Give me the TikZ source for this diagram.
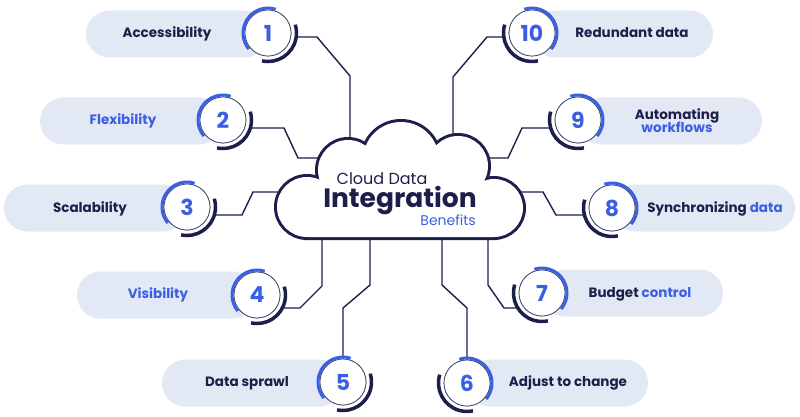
\documentclass[tikz,border=0pt]{standalone}
\usepackage{fontspec}
\setmainfont{Poppins}
\definecolor{navy}{HTML}{1C1F4A}
\definecolor{bblue}{HTML}{3A5FE5}
\definecolor{pillc}{HTML}{E3E8F5}
\begin{document}
\begin{tikzpicture}[x=1pt,y=-1pt,
  pill/.style={fill=pillc, rounded corners=23.5pt},
  numc/.style={circle, draw=navy!85, line width=0.7pt, fill=white, minimum size=46pt, inner sep=0pt,
    font=\bfseries\fontsize{22}{22}\selectfont, text=bblue},
  lbl/.style={font=\bfseries\fontsize{13.5}{15}\selectfont, text=navy, align=center, inner sep=0pt},
  conn/.style={draw=navy, line width=1.4pt, line join=miter},
  barc/.style={draw=bblue, line width=3pt},
  narc/.style={draw=navy, line width=3.5pt},
  cloudshape/.style={line width=6pt, draw=navy},
]
\useasboundingbox (0,0) rectangle (800,417);
\fill[white] (0,0) rectangle (800,417);

% pills
\fill[pill] (86,10.5) rectangle (268,57.5);
\fill[pill] (40,97.5) rectangle (223,144.5);
\fill[pill] (4,184.5) rectangle (187,231.5);
\fill[pill] (77,271.5) rectangle (257,318.5);
\fill[pill] (162,359.5) rectangle (343,406.5);
\fill[pill] (467,359.5) rectangle (648,406.5);
\fill[pill] (542,269.5) rectangle (723,316.5);
\fill[pill] (612,184.5) rectangle (795,231.5);
\fill[pill] (578,97.5) rectangle (762,144.5);
\fill[pill] (532,10.5) rectangle (713,57.5);

% number circles (nodes)
\node[numc] (n1) at (268,33) {1};
\node[numc] (n2) at (223,120) {2};
\node[numc] (n3) at (187,207) {3};
\node[numc] (n4) at (257,295) {4};
\node[numc] (n5) at (343,382) {5};
\node[numc] (n6) at (467,383) {6};
\node[numc] (n7) at (542,293) {7};
\node[numc] (n8) at (612,208) {8};
\node[numc] (n9) at (578,120) {9};
\node[numc] (n10) at (532,33) {10};

% cloud attachment points
\coordinate (cA) at (350,150);
\coordinate (cB) at (335,158);
\coordinate (cC) at (290,192);
\coordinate (cD) at (322,230);
\coordinate (cE) at (370,230);
\coordinate (cF) at (442,230);
\coordinate (cG) at (488,230);
\coordinate (cH) at (510,192);
\coordinate (cI) at (470,158);
\coordinate (cJ) at (453,150);

% connectors
\draw[conn] ([shift={(27.7,4)}]n1.center) -- (317,37) -- (350,76) -- (cA);
\draw[conn] ([shift={(26.8,8)}]n2.center) -- (284,128) -- (298,158) -- (cB);
\draw[conn] ([shift={(26.8,8)}]n3.center) -- (242,215) -- (253,192) -- (cC);
\draw[conn] ([shift={(24.8,13)}]n4.center) -- (300,308) -- (322,286) -- (cD);
\draw[conn] (n5.north) -- (343,308) -- (370,285) -- (cE);
\draw[conn] (n6.north) -- (467,308) -- (442,285) -- (cF);
\draw[conn] ([shift={(-23.6,15)}]n7.center) -- (504,308) -- (488,285) -- (cG);
\draw[conn] ([shift={(-26.8,7)}]n8.center) -- (556,215) -- (543,192) -- (cH);
\draw[conn] ([shift={(-26.8,8)}]n9.center) -- (522,128) -- (508,158) -- (cI);
\draw[conn] ([shift={(-27.7,4)}]n10.center) -- (487,37) -- (453,77) -- (cJ);

% redraw circles on top of connectors
\foreach \n/\t in {n1/1,n2/2,n3/3,n4/4,n5/5,n6/6,n7/7,n8/8,n9/9,n10/10}
  \node[numc] at (\n.center) {\t};

% cloud: union outline trick
\def\cloudshapes{
  (307,207) circle[radius=30]
  (348,170) circle[radius=30]
  (401,160) circle[radius=38]
  (458,166) circle[radius=30]
  (494,208) circle[radius=29]
  (307,207) -- (348,170) -- (401,160) -- (458,166) -- (494,208) -- (494,237) -- (307,237) -- cycle
}
\draw[cloudshape] \cloudshapes;
\fill[white] \cloudshapes;

% rings
\foreach \n in {n1,n2,n3,n4,n5}{
  \draw[barc] (\n.center) ++(-72:25) arc[start angle=-72, end angle=-220, radius=25];
  \draw[narc] (\n.center) ++(102:28.5) arc[start angle=102, end angle=-17, radius=28.5];
}
\foreach \n in {n6,n7,n8,n9,n10}{
  \draw[barc] (\n.center) ++(-108:25) arc[start angle=-108, end angle=40, radius=25];
  \draw[narc] (\n.center) ++(-163:28.5) arc[start angle=-163, end angle=-282, radius=28.5];
}

% cloud title
\node[text=navy, font=\fontsize{16}{16}\selectfont, inner sep=0pt, anchor=base] (t1) at (382,184.5) {Cloud Data};
\node[text=navy, font=\bfseries\fontsize{26.5}{26.5}\selectfont, inner sep=0pt, anchor=base] (t2) at (400,207.5) {Integration};
\node[text=bblue, font=\fontsize{14}{14}\selectfont, inner sep=0pt, anchor=base east] (t3) at (476,225) {Benefits};

% labels
\node[lbl] (l1) at (167,34) {Accessibility};
\node[lbl, text=bblue] (l2) at (123,121) {Flexibility};
\node[lbl] (l3) at (90,209) {Scalability};
\node[lbl, text=bblue] (l4) at (158,295) {Visibility};
\node[lbl] (l5) at (247,383) {Data sprawl};
\node[lbl] (l6) at (568,383) {Adjust to change};
\node[lbl] (l7) at (640,294) {Budget \textcolor{bblue}{control}};
\node[lbl] (l8) at (715,209) {Synchronizing \textcolor{bblue}{data}};
\node[lbl] (l9) at (677,121) {Automating\\[-2pt]\textcolor{bblue}{workflows}};
\node[lbl] (l10) at (632,33) {Redundant data};
\end{tikzpicture}
\end{document}
